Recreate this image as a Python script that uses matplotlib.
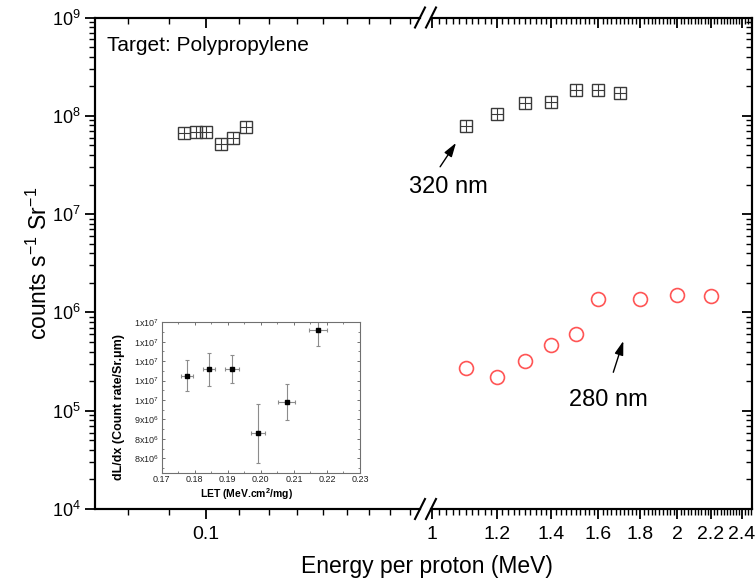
import numpy as np
import matplotlib
matplotlib.use("Agg")
import matplotlib.pyplot as plt
from matplotlib.lines import Line2D
from matplotlib.ticker import FixedLocator, FixedFormatter, NullFormatter, FuncFormatter, MultipleLocator

plt.rcParams['font.family'] = ['Liberation Sans', 'DejaVu Sans']
plt.rcParams['mathtext.fontset'] = 'custom'
plt.rcParams['mathtext.rm'] = 'Liberation Sans'
plt.rcParams['mathtext.bf'] = 'Liberation Sans:bold'
plt.rcParams['mathtext.default'] = 'regular'

# 320 nm band, low-energy run (MeV per proton, counts/s/Sr)
e_low = [0.0938, 0.0971, 0.1, 0.1046, 0.108, 0.1124]
c320_low = [6.64e7, 6.79e7, 6.79e7, 5.16e7, 5.94e7, 7.75e7]

# 320 nm band, high-energy run
e_320 = [1.1, 1.2, 1.3, 1.4, 1.5, 1.6, 1.7]
c320 = [7.87e7, 1.035e8, 1.34e8, 1.39e8, 1.83e8, 1.83e8, 1.69e8]

# 280 nm band
e_280 = [1.1, 1.2, 1.3, 1.4, 1.5, 1.6, 1.8, 2.0, 2.2]
c280 = [2.74e5, 2.22e5, 3.21e5, 4.69e5, 5.98e5, 1.36e6, 1.36e6, 1.49e6, 1.47e6]

# inset: dL/dx against LET
let = [0.1776, 0.1843, 0.1913, 0.1991, 0.2078, 0.2172]
let_err = [0.0018, 0.0018, 0.0020, 0.0022, 0.0026, 0.0027]
dldx = [1.012e7, 1.029e7, 1.031e7, 8.65e6, 9.45e6, 1.13e7]
dldx_err = [4.0e5, 4.3e5, 3.6e5, 7.6e5, 4.7e5, 4.1e5]

# axis ticks
low_ticks = [0.1]
low_labels = ['0.1']
low_minor = [0.08, 0.09, 0.11, 0.12, 0.13, 0.14, 0.15, 0.16, 0.17, 0.18]
hi_ticks = [1, 1.2, 1.4, 1.6, 1.8, 2, 2.2, 2.4]
hi_labels = ['1', '1.2', '1.4', '1.6', '1.8', '2', '2.2', '2.4']
hi_minor = np.arange(1.0, 2.47, 0.02)

W, H = 756, 585
fig = plt.figure(figsize=(W / 100, H / 100), dpi=100)


def box(x0, y0, x1, y1):
    # pixel box (from top-left) -> figure fraction rect
    return [x0 / W, 1 - y1 / H, (x1 - x0) / W, (y1 - y0) / H]


TOP, BOT = 17.5, 509
ax1 = fig.add_axes(box(95, TOP, 420, BOT))
ax2 = fig.add_axes(box(431, TOP, 752, BOT), sharey=ax1)

ax1.set_yscale('log')
ax1.set_ylim(1e4, 1e9)
ax1.set_xscale('log')
ax1.set_xlim(0.0727, 0.1852)
ax2.set_xscale('log')
ax2.set_xlim(0.997, 2.47)

sq_col = '#3a3a3a'
for ax, xs, ys in ((ax1, e_low, c320_low), (ax2, e_320, c320)):
    ax.plot(xs, ys, ls='none', marker='s', ms=8, mfc='none', mec=sq_col, mew=1.0)
    ax.plot(xs, ys, ls='none', marker='+', ms=8, mec=sq_col, mew=0.8)
ax2.plot(e_280, c280, ls='none', marker='o', ms=10, mfc='none', mec='#ff5555', mew=1.2)

# spines and ticks
for ax in (ax1, ax2):
    for s in ax.spines.values():
        s.set_linewidth(1.5)
    ax.tick_params(which='major', length=7.5, width=1.3, labelsize=14, pad=5)
    ax.tick_params(which='minor', length=4.5, width=1.0)
ax1.spines['right'].set_visible(False)
ax2.spines['left'].set_visible(False)

ax1.tick_params(axis='x', which='both', direction='out', top=False)
ax1.tick_params(axis='y', which='both', direction='out', right=False, labelsize=13, pad=3)
ax2.tick_params(axis='x', which='both', direction='out', top=False)
ax2.tick_params(axis='y', which='both', direction='in', left=False, labelleft=False, right=True)

ax1.xaxis.set_major_locator(FixedLocator(low_ticks))
ax1.xaxis.set_major_formatter(FixedFormatter(low_labels))
ax1.xaxis.set_minor_locator(FixedLocator(low_minor))
ax1.xaxis.set_minor_formatter(NullFormatter())
ax2.xaxis.set_major_locator(FixedLocator(hi_ticks))
ax2.xaxis.set_major_formatter(FixedFormatter(hi_labels))
ax2.xaxis.set_minor_locator(FixedLocator(hi_minor))
ax2.xaxis.set_minor_formatter(NullFormatter())

# top ticks point into the plot, so they live on twin axes
for ax, major, minor, hide in ((ax1, low_ticks, low_minor, 'right'), (ax2, hi_ticks, hi_minor, 'left')):
    tw = ax.twiny()
    tw.set_xscale('log')
    tw.set_xlim(ax.get_xlim())
    tw.xaxis.set_major_locator(FixedLocator(major))
    tw.xaxis.set_minor_locator(FixedLocator(minor))
    tw.xaxis.set_major_formatter(NullFormatter())
    tw.xaxis.set_minor_formatter(NullFormatter())
    tw.tick_params(axis='x', which='major', direction='in', length=7.5, width=1.3)
    tw.tick_params(axis='x', which='minor', direction='in', length=4.5, width=1.0)
    for s in tw.spines.values():
        s.set_linewidth(1.5)
    tw.spines[hide].set_visible(False)

# axis break marks
for xb in (420, 431):
    for yb in (TOP, BOT):
        fig.add_artist(Line2D([(xb - 5) / W, (xb + 5) / W], [1 - (yb + 10) / H, 1 - (yb - 10) / H],
                              color='k', lw=1.5))

ax1.set_ylabel(r'counts s$^{-1}$ Sr$^{-1}$', fontsize=16.5)
ax1.yaxis.set_label_coords((52 - 95) / 325, 0.5)
fig.text(427 / W, 1 - 567 / H, 'Energy per proton (MeV)', fontsize=16.5, ha='center', va='center')

ax1.text(0.037, 0.944, 'Target: Polypropylene', transform=ax1.transAxes, fontsize=15, va='center')

arrow = dict(arrowstyle='-|>,head_length=0.7,head_width=0.22', color='k', lw=1.0,
             shrinkA=0, shrinkB=0, mutation_scale=12)
ax2.text(1.046, 1.9e7, '320 nm', fontsize=17, ha='center', va='center')
ax2.annotate('', xy=(1.07, 5.3e7), xytext=(1.023, 3.03e7), arrowprops=arrow)
ax2.text(1.645, 1.29e5, '280 nm', fontsize=17, ha='center', va='center')
ax2.annotate('', xy=(1.717, 5.12e5), xytext=(1.669, 2.46e5), arrowprops=arrow)

# inset
ins = fig.add_axes(box(161.7, 322.3, 360, 472.7))
ins.set_zorder(10)
ins.errorbar(let, dldx, xerr=let_err, yerr=dldx_err, fmt='s', ms=3.5, mfc='k', mec='k',
             ecolor='#8c8c8c', elinewidth=0.8, capsize=1.5, capthick=0.8)
ins.set_xlim(0.17, 0.23)
ins.set_ylim(7.63e6, 1.15e7)
ins.xaxis.set_major_locator(MultipleLocator(0.01))
ins.xaxis.set_minor_locator(MultipleLocator(0.005))
ins.xaxis.set_major_formatter(FuncFormatter(lambda v, p: '%.2f' % v))
ins.yaxis.set_major_locator(MultipleLocator(5e5))
ins.yaxis.set_minor_locator(MultipleLocator(2.5e5))


def sci_label(v, pos):
    m, e = ('%.0e' % v).split('e')
    return r'%sx10$^{%d}$' % (m, int(e))


ins.yaxis.set_major_formatter(FuncFormatter(sci_label))
for s in ins.spines.values():
    s.set_linewidth(0.8)
    s.set_color('#707070')
ins.tick_params(which='both', direction='in', top=True, right=True, colors='#707070',
                labelcolor='#222222', labelsize=6.5, pad=2)
ins.tick_params(which='major', length=2.5, width=0.7)
ins.tick_params(which='minor', length=1.5, width=0.6)
ins.set_xlabel(r'LET (MeV.cm$^{\mathbf{2}}$/mg)', fontsize=7.5, fontweight='bold')
ins.xaxis.set_label_coords(0.428, -0.088)
ins.set_ylabel('dL/dx (Count rate/Sr.μm)', fontsize=9, fontweight='bold')
ins.yaxis.set_label_coords(-0.185, 0.434)

fig.savefig('out.png', dpi=100)
